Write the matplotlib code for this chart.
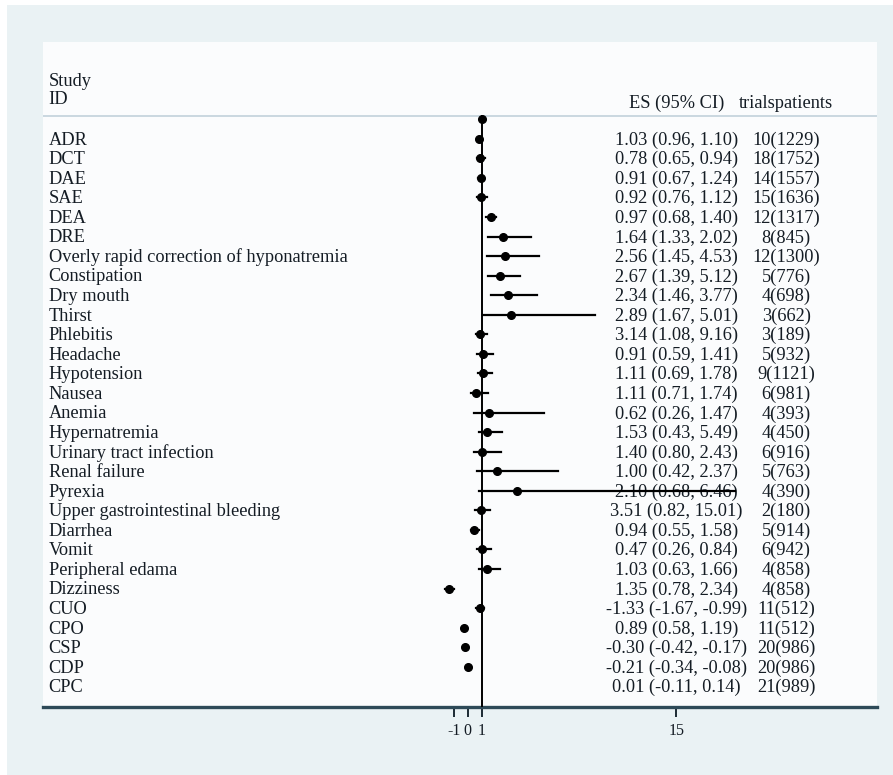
import matplotlib
matplotlib.use("Agg")
import matplotlib.pyplot as plt
from matplotlib.patches import Rectangle

plt.rcParams['font.family'] = ['Liberation Serif', 'DejaVu Serif']
plt.rcParams['axes.unicode_minus'] = False

labels = ['ADR', 'DCT', 'DAE', 'SAE', 'DEA', 'DRE',
          'Overly rapid correction of hyponatremia', 'Constipation', 'Dry mouth',
          'Thirst', 'Phlebitis', 'Headache', 'Hypotension', 'Nausea', 'Anemia',
          'Hypernatremia', 'Urinary tract infection', 'Renal failure', 'Pyrexia',
          'Upper gastrointestinal bleeding', 'Diarrhea', 'Vomit', 'Peripheral edama',
          'Dizziness', 'CUO', 'CPO', 'CSP', 'CDP', 'CPC']

es = [1.03, 0.78, 0.91, 0.92, 0.97, 1.64, 2.56, 2.67, 2.34, 2.89, 3.14, 0.91, 1.11,
      1.11, 0.62, 1.53, 1.40, 1.00, 2.10, 3.51, 0.94, 0.47, 1.03, 1.35, -1.33, 0.89,
      -0.30, -0.21, 0.01]
ci_lo = [0.96, 0.65, 0.67, 0.76, 0.68, 1.33, 1.45, 1.39, 1.46, 1.67, 1.08, 0.59, 0.69,
         0.71, 0.26, 0.43, 0.80, 0.42, 0.68, 0.82, 0.55, 0.26, 0.63, 0.78, -1.67, 0.58,
         -0.42, -0.34, -0.11]
# upper limits as drawn (the bleeding row's line runs past 15 in the picture)
ci_hi = [1.10, 0.94, 1.24, 1.12, 1.40, 2.02, 4.53, 5.12, 3.77, 5.01, 9.16, 1.41, 1.78,
         1.74, 1.47, 5.49, 2.43, 2.37, 6.46, 19.2, 1.58, 0.84, 1.66, 2.34, -0.99, 1.19,
         -0.17, -0.08, 0.14]

es_text = ['1.03 (0.96, 1.10)', '0.78 (0.65, 0.94)', '0.91 (0.67, 1.24)',
           '0.92 (0.76, 1.12)', '0.97 (0.68, 1.40)', '1.64 (1.33, 2.02)',
           '2.56 (1.45, 4.53)', '2.67 (1.39, 5.12)', '2.34 (1.46, 3.77)',
           '2.89 (1.67, 5.01)', '3.14 (1.08, 9.16)', '0.91 (0.59, 1.41)',
           '1.11 (0.69, 1.78)', '1.11 (0.71, 1.74)', '0.62 (0.26, 1.47)',
           '1.53 (0.43, 5.49)', '1.40 (0.80, 2.43)', '1.00 (0.42, 2.37)',
           '2.10 (0.68, 6.46)', '3.51 (0.82, 15.01)', '0.94 (0.55, 1.58)',
           '0.47 (0.26, 0.84)', '1.03 (0.63, 1.66)', '1.35 (0.78, 2.34)',
           '-1.33 (-1.67, -0.99)', '0.89 (0.58, 1.19)', '-0.30 (-0.42, -0.17)',
           '-0.21 (-0.34, -0.08)', '0.01 (-0.11, 0.14)']

trials = ['10(1229)', '18(1752)', '14(1557)', '15(1636)', '12(1317)', '8(845)',
          '12(1300)', '5(776)', '4(698)', '3(662)', '3(189)', '5(932)', '9(1121)',
          '6(981)', '4(393)', '4(450)', '6(916)', '5(763)', '4(390)', '2(180)',
          '5(914)', '6(942)', '4(858)', '4(858)', '11(512)', '11(512)', '20(986)',
          '20(986)', '21(989)']

xticks = [-1, 0, 1, 15]

txt = '#141c24'
fs = 13.2

fig = plt.figure(figsize=(8.93, 7.75), dpi=100, facecolor='white')
fig.patches.append(Rectangle((7 / 893, 0), 1, 1 - 5 / 775, transform=fig.transFigure,
                             facecolor='#eaf2f4', edgecolor='none', zorder=-10))
ax = fig.add_axes([0.0485, 0.0881, 0.9332, 0.8581])
ax.set_facecolor('#fbfcfd')

ax.set_xlim(-30.54, 29.42)
ax.set_ylim(28.97, -5.03)

# rows of text
for i, lab in enumerate(labels):
    ax.text(-30.15, i, lab, ha='left', va='center', fontsize=fs, color=txt)
    ax.text(15.0, i, es_text[i], ha='center', va='center', fontsize=fs, color=txt)
    ax.text(22.9, i, trials[i], ha='center', va='center', fontsize=fs, color=txt)

ax.text(-30.15, -3.02, 'Study', ha='left', va='center', fontsize=fs, color=txt)
ax.text(-30.15, -2.10, 'ID', ha='left', va='center', fontsize=fs, color=txt)
ax.text(15.0, -1.88, 'ES (95% CI)', ha='center', va='center', fontsize=fs, color=txt)
ax.text(22.9, -1.88, 'trialspatients', ha='center', va='center', fontsize=fs, color=txt)

ax.axhline(-1.24, color='#c6d5dd', lw=1.3)
ax.plot([1, 1], [-1.24, 28.97], color='black', lw=1.4, zorder=3)

# markers sit one row above their labels, as in the original
for i in range(len(es)):
    y = i - 1.07
    ax.plot([ci_lo[i], ci_hi[i]], [y, y], color='black', lw=1.6, zorder=4)
    ax.plot(es[i], y, 'o', color='black', markersize=5.5, zorder=5)

for s in ['left', 'right', 'top']:
    ax.spines[s].set_visible(False)
ax.spines['bottom'].set_color('#2e4a58')
ax.spines['bottom'].set_linewidth(2.4)
ax.set_yticks([])
ax.set_xticks(xticks)
ax.set_xticklabels([str(t) for t in xticks])
ax.tick_params(axis='x', length=7, width=1.4, color='#1c2a33', pad=5,
               labelsize=11.5, labelcolor=txt)

fig.savefig('out.png', dpi=100, facecolor=fig.get_facecolor())
